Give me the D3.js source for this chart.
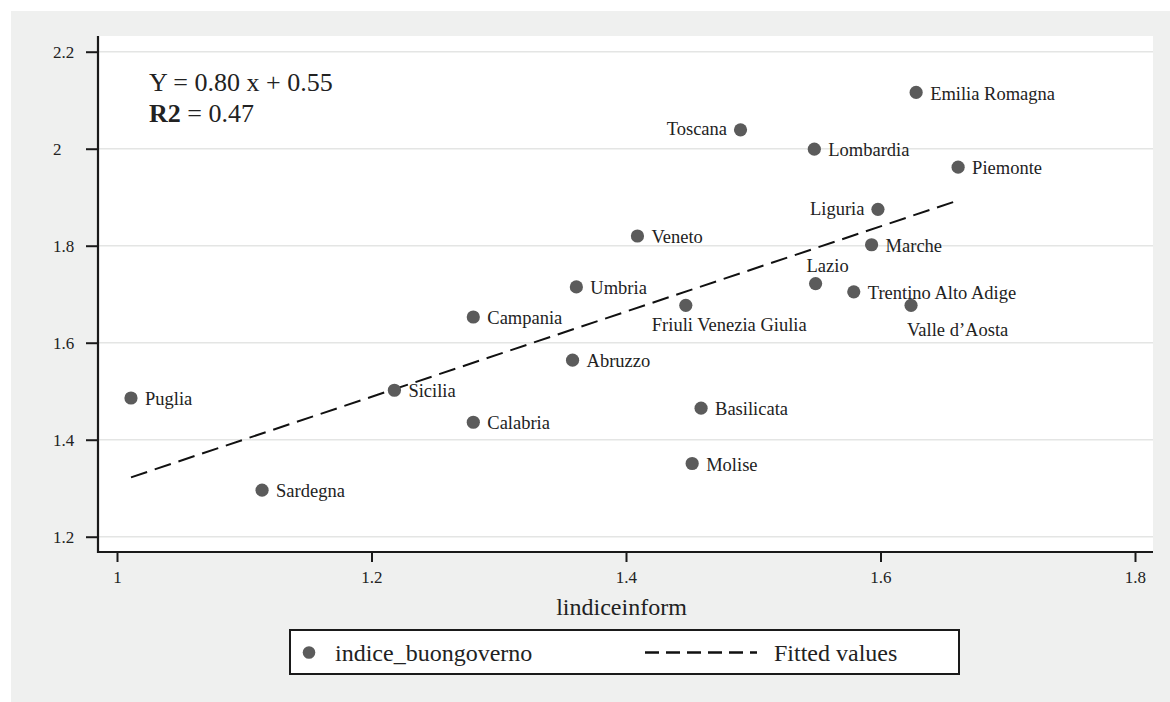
<!DOCTYPE html>
<html>
<head>
<meta charset="utf-8">
<script src="https://cdn.jsdelivr.net/npm/d3@7"></script>
<style>
  html, body { margin: 0; padding: 0; background: #ffffff; }
  svg { display: block; }
  svg text { font-family: "Liberation Serif", "Times New Roman", serif; }
</style>
</head>
<body>
<svg id="chart" width="1170" height="702"></svg>
<script>
// ---------------- data ----------------
const regions = ["Puglia", "Sardegna", "Sicilia", "Campania", "Calabria", "Umbria", "Abruzzo",
  "Veneto", "Friuli Venezia Giulia", "Basilicata", "Molise", "Toscana", "Lombardia",
  "Emilia Romagna", "Piemonte", "Liguria", "Marche", "Lazio", "Trentino Alto Adige", "Valle d\u2019Aosta"];
const lindiceinform = [1.011, 1.114, 1.218, 1.280, 1.280, 1.361, 1.358,
  1.409, 1.447, 1.459, 1.452, 1.490, 1.548,
  1.628, 1.661, 1.598, 1.593, 1.549, 1.579, 1.624];
const indice_buongoverno = [1.486, 1.296, 1.502, 1.653, 1.436, 1.715, 1.564,
  1.820, 1.677, 1.465, 1.351, 2.039, 1.999,
  2.116, 1.962, 1.875, 1.802, 1.722, 1.705, 1.677];
// label clock position (Stata-style mlabposition)
const labelPos = [3, 3, 3, 3, 3, 3, 3,
  3, 6, 3, 3, 9, 3,
  3, 3, 9, 3, 12, 3, 5];
const xTicks = [1, 1.2, 1.4, 1.6, 1.8];
const yTicks = [1.2, 1.4, 1.6, 1.8, 2, 2.2];
const xTitle = "lindiceinform";
const legendLabels = ["indice_buongoverno", "Fitted values"];
const eqLine1 = "Y = 0.80 x + 0.55";
const eqLine2Bold = "R2";
const eqLine2Rest = " = 0.47";

// ---------------- layout ----------------
const W = 1170, H = 702;
const plot = { left: 98, right: 1153, top: 36, bottom: 552 };
const svg = d3.select("#chart");
const FONT = "'Liberation Serif', 'Times New Roman', serif";

const x = d3.scaleLinear().domain([0.98507, 1.81415]).range([plot.left, plot.right]);
const y = d3.scaleLinear().domain([1.1685, 2.2324]).range([plot.bottom, plot.top]);

// backgrounds
svg.append("rect").attr("x", 11).attr("y", 11).attr("width", W - 11).attr("height", H - 11)
  .attr("fill", "#eff0ef");
svg.append("rect").attr("x", plot.left).attr("y", plot.top)
  .attr("width", plot.right - plot.left).attr("height", plot.bottom - plot.top)
  .attr("fill", "#ffffff");

// gridlines
svg.append("g").selectAll("line").data(yTicks).join("line")
  .attr("x1", plot.left).attr("x2", plot.right)
  .attr("y1", d => y(d)).attr("y2", d => y(d))
  .attr("stroke", "#e4e5e4").attr("stroke-width", 1.6);

const fmt = d => String(Math.round(d * 10) / 10);

// y axis
const yAxis = d3.axisLeft(y).tickValues(yTicks).tickSize(12).tickPadding(0).tickFormat(fmt);
const gy = svg.append("g").attr("transform", `translate(${plot.left},0)`).call(yAxis)
  .attr("font-size", null).attr("font-family", null);
gy.select(".domain").remove();
gy.selectAll(".tick line").attr("stroke", "#1a1a1a").attr("stroke-width", 2);
gy.selectAll(".tick text")
  .attr("x", 53 - plot.left).attr("dy", null).attr("y", 6)
  .attr("text-anchor", "start").attr("fill", "#222")
  .style("font-size", "17px").style("font-family", FONT);
svg.append("line").attr("x1", plot.left).attr("x2", plot.left)
  .attr("y1", plot.top).attr("y2", plot.bottom + 1)
  .attr("stroke", "#1a1a1a").attr("stroke-width", 2.2);

// x axis
const xAxis = d3.axisBottom(x).tickValues(xTicks).tickSize(10).tickPadding(0).tickFormat(fmt);
const gx = svg.append("g").attr("transform", `translate(0,${plot.bottom})`).call(xAxis)
  .attr("font-size", null).attr("font-family", null);
gx.select(".domain").remove();
gx.selectAll(".tick line").attr("stroke", "#1a1a1a").attr("stroke-width", 2);
gx.selectAll(".tick text")
  .attr("dy", null).attr("y", 31).attr("fill", "#222")
  .style("font-size", "17px").style("font-family", FONT);
svg.append("line").attr("x1", plot.left - 1).attr("x2", plot.right)
  .attr("y1", plot.bottom).attr("y2", plot.bottom)
  .attr("stroke", "#1a1a1a").attr("stroke-width", 2.2);

// x title
svg.append("text").attr("x", (plot.left + plot.right) / 2 - 4).attr("y", 615)
  .attr("text-anchor", "middle").style("font-size", "24px").attr("fill", "#222")
  .text(xTitle);

// ---------------- fitted values (OLS from data) ----------------
const n = lindiceinform.length;
const mx = d3.mean(lindiceinform), my = d3.mean(indice_buongoverno);
let sxy = 0, sxx = 0;
for (let i = 0; i < n; i++) {
  sxy += (lindiceinform[i] - mx) * (indice_buongoverno[i] - my);
  sxx += (lindiceinform[i] - mx) ** 2;
}
const slope = sxy / sxx, intercept = my - slope * mx;
const xs = d3.extent(lindiceinform);
const fitted = xs.map(v => ({ x: v, y: intercept + slope * v }));
svg.append("path").datum(fitted)
  .attr("d", d3.line().x(d => x(d.x)).y(d => y(d.y)))
  .attr("fill", "none").attr("stroke", "#111").attr("stroke-width", 2)
  .attr("stroke-dasharray", "17,8");

// ---------------- points ----------------
const pts = regions.map((r, i) => ({ name: r, x: lindiceinform[i], y: indice_buongoverno[i], pos: labelPos[i] }));
svg.append("g").selectAll("circle").data(pts).join("circle")
  .attr("cx", d => x(d.x)).attr("cy", d => y(d.y)).attr("r", 6.6)
  .attr("fill", "#5b5b5b");

function labelAttrs(d) {
  const cx = x(d.x), cy = y(d.y);
  switch (d.pos) {
    case 9: return { x: cx - 13.5, y: cy + 5.5, anchor: "end" };
    case 12: return { x: cx + 12, y: cy - 12, anchor: "middle" };
    case 6: return { x: cx - 34, y: cy + 25.5, anchor: "start" };
    case 5: return { x: cx - 4, y: cy + 31, anchor: "start" };
    default: return { x: cx + 14, y: cy + 7.2, anchor: "start" };
  }
}
svg.append("g").selectAll("text").data(pts).join("text")
  .each(function (d) {
    const a = labelAttrs(d);
    d3.select(this).attr("x", a.x).attr("y", a.y).attr("text-anchor", a.anchor);
  })
  .style("font-size", "18.5px").attr("fill", "#222")
  .text(d => d.name);

// ---------------- equation text ----------------
svg.append("text").attr("x", 149).attr("y", 91).style("font-size", "26px").attr("fill", "#222")
  .text(eqLine1);
const t2 = svg.append("text").attr("x", 149).attr("y", 122).style("font-size", "26px").attr("fill", "#222");
t2.append("tspan").attr("font-weight", "bold").text(eqLine2Bold);
t2.append("tspan").text(eqLine2Rest);

// ---------------- legend ----------------
const lg = svg.append("g");
lg.append("rect").attr("x", 290).attr("y", 630).attr("width", 669).attr("height", 44)
  .attr("fill", "#ffffff").attr("stroke", "#1a1a1a").attr("stroke-width", 2);
lg.append("circle").attr("cx", 309).attr("cy", 652.5).attr("r", 6.3).attr("fill", "#5b5b5b");
lg.append("text").attr("x", 335).attr("y", 661).style("font-size", "24px").attr("fill", "#222")
  .text(legendLabels[0]);
lg.append("line").attr("x1", 645).attr("x2", 757).attr("y1", 652.5).attr("y2", 652.5)
  .attr("stroke", "#111").attr("stroke-width", 2.4).attr("stroke-dasharray", "14,7");
lg.append("text").attr("x", 774).attr("y", 661).style("font-size", "24px").attr("fill", "#222")
  .text(legendLabels[1]);
</script>
</body>
</html>
